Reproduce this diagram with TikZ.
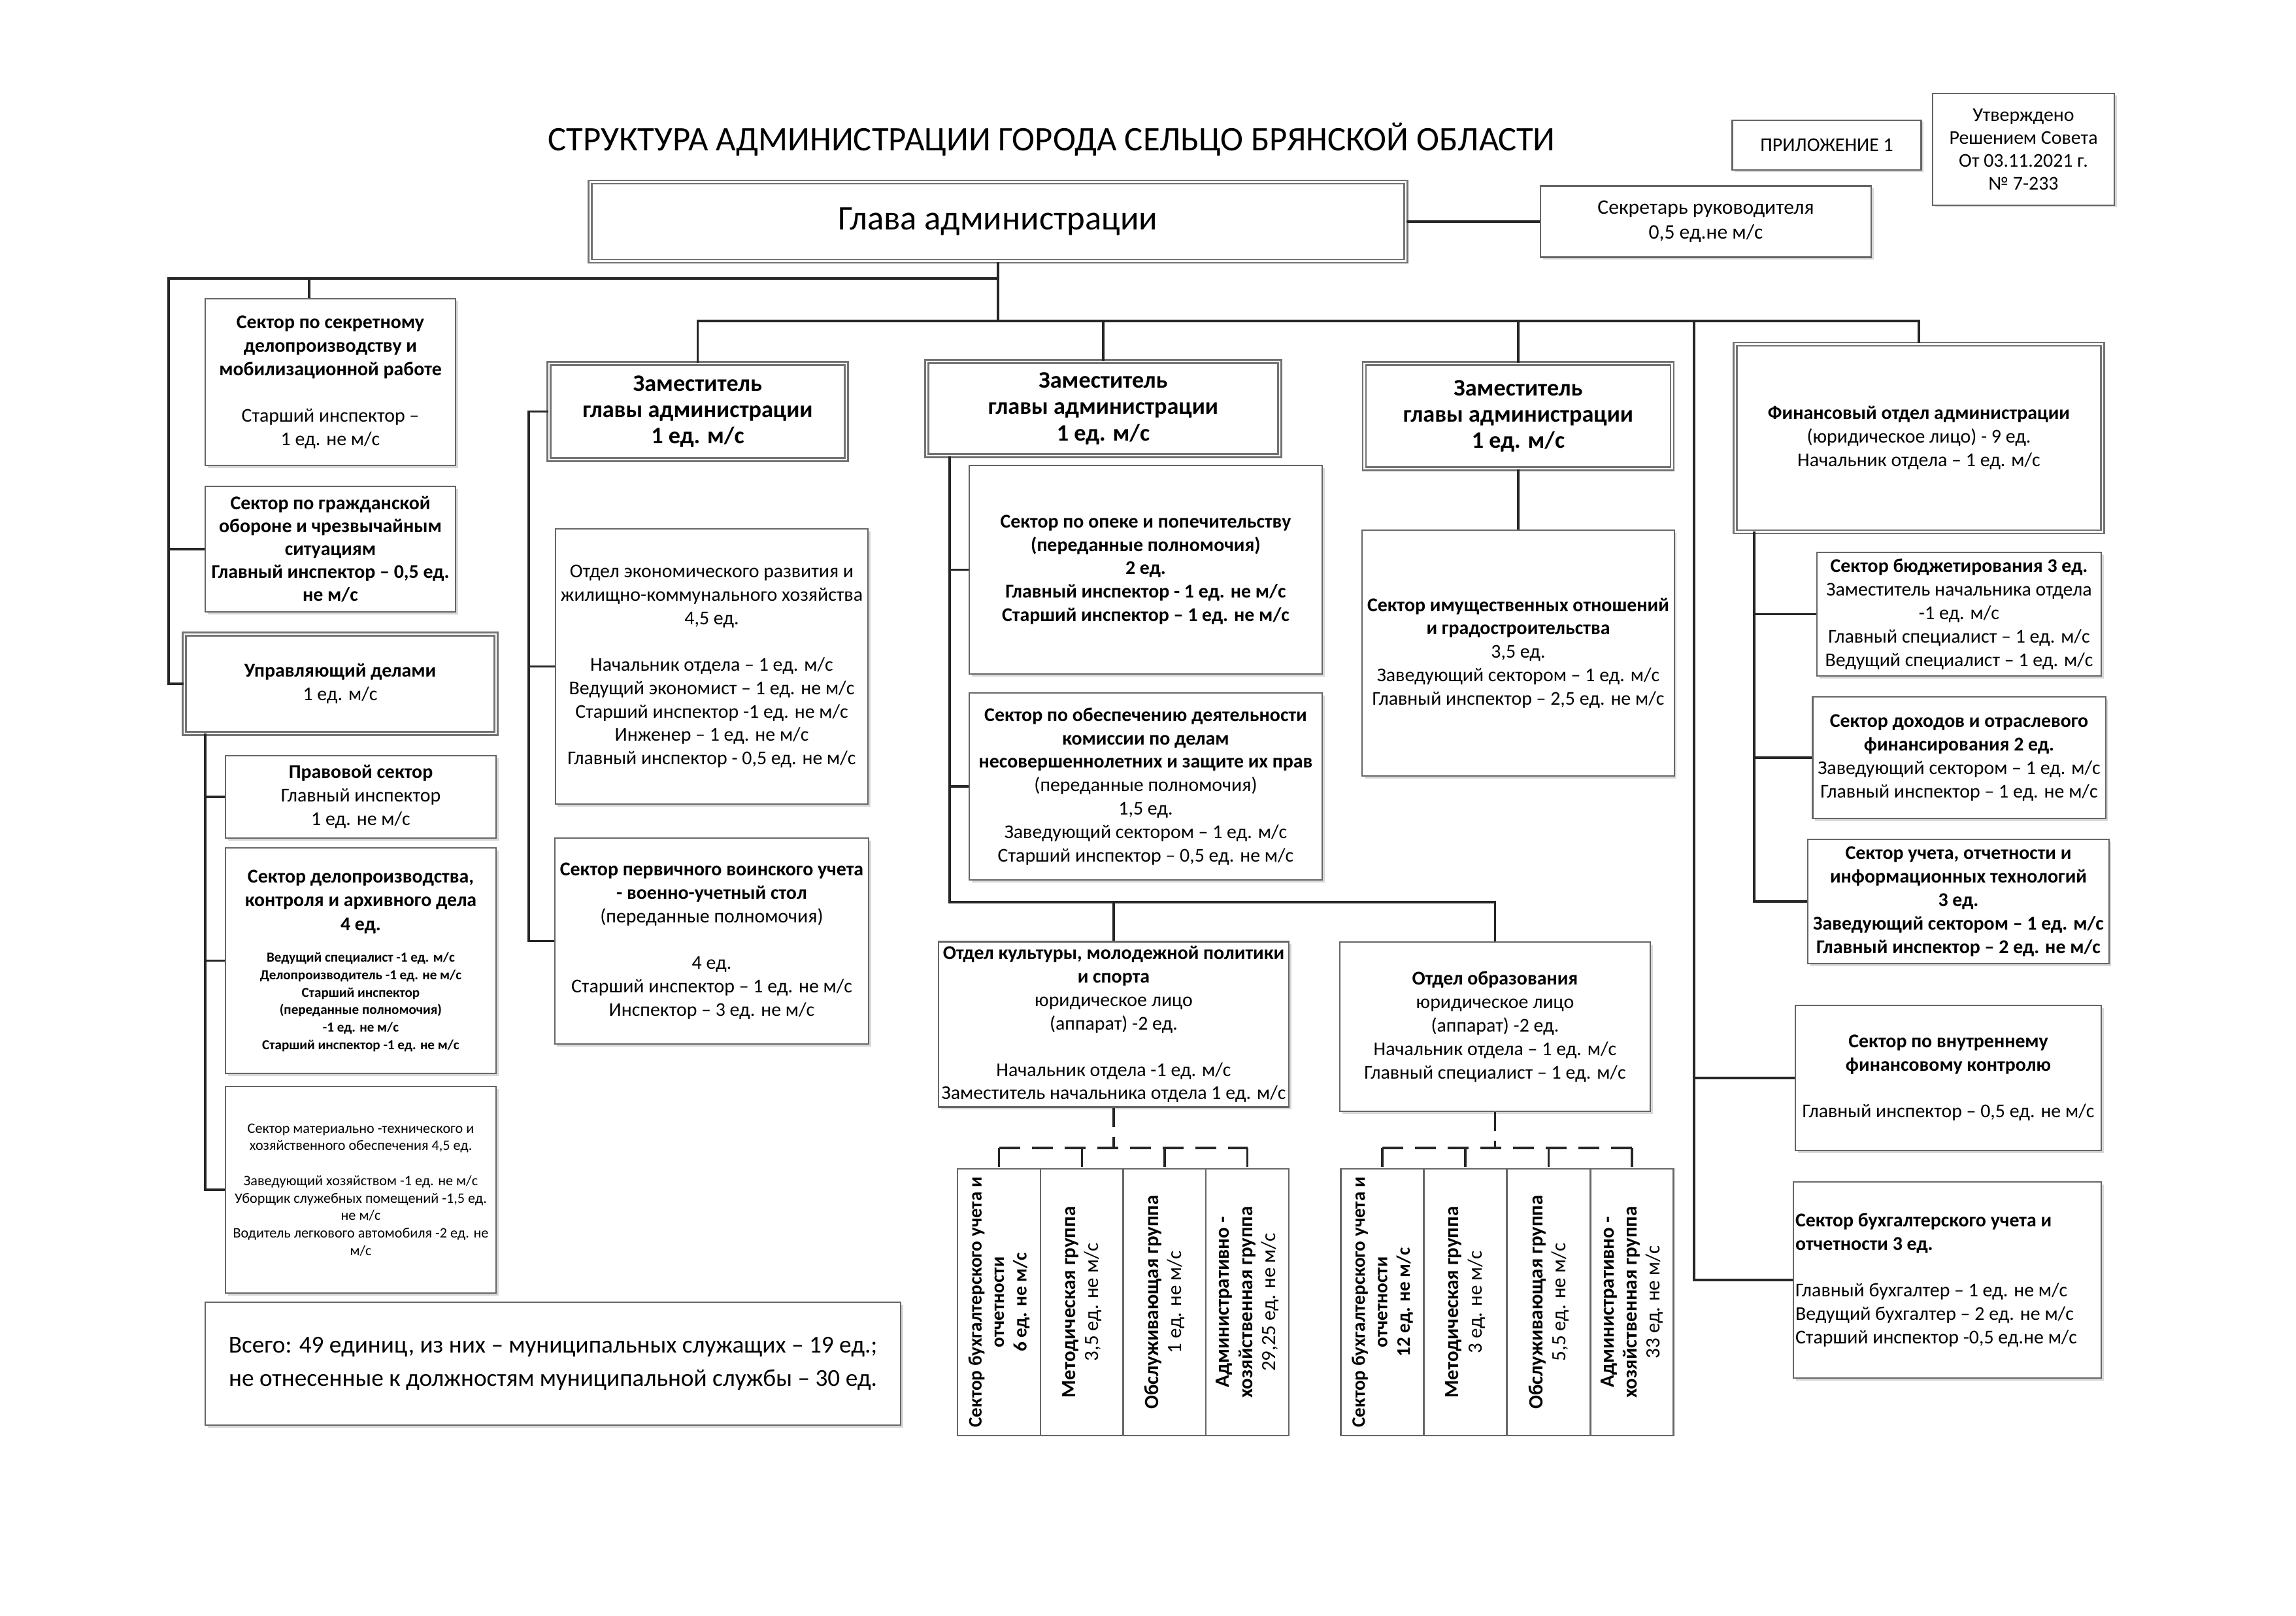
\documentclass[tikz,border=0pt]{standalone}
\usepackage{fontspec}
\setmainfont{Carlito}
\usetikzlibrary{shadows}

\begin{document}
\begin{tikzpicture}[x=1mm, y=-1mm]
\tikzstyle{boxStyle} = [draw=black!60, line width=0.7pt, fill=white, inner xsep=0.8mm, inner ysep=0.4mm, align=center, font=\fontsize{8.5}{10.2}\selectfont, drop shadow={shadow xshift=0.35mm, shadow yshift=-0.35mm, fill=black!30}]
\tikzstyle{mainStyle} = [boxStyle, double=white, double distance=0.7pt, draw=black!55]
\tikzstyle{zamStyle} = [mainStyle, minimum width=45.5mm, minimum height=14.7mm, font=\fontsize{10.3}{11.5}\selectfont\bfseries]
\tikzstyle{colStyle} = [draw=black!60, line width=0.7pt, fill=white, rotate=90, minimum width=40.8mm, minimum height=12.7mm, inner sep=0.3mm, align=center, font=\fontsize{8.8}{10}\selectfont]
\tikzstyle{edgeStyle} = [draw=black!85, line width=0.9pt]
\tikzstyle{dashStyle} = [edgeStyle, line width=1.1pt, dash pattern=on 3.2mm off 1.8mm]
\tikzstyle{stubStyle} = [edgeStyle, dash pattern=on 2.9mm off 1.5mm]

\useasboundingbox (0,0) rectangle (351.3,247.2);

\node[font=\fontsize{15}{17}\selectfont] (title) at (160.9,21.3) {СТРУКТУРА АДМИНИСТРАЦИИ ГОРОДА СЕЛЬЦО БРЯНСКОЙ ОБЛАСТИ};
\node[boxStyle, minimum width=28.9mm, minimum height=7.6mm, font=\fontsize{8.5}{10}\selectfont] (app) at (279.5,22.2) {ПРИЛОЖЕНИЕ 1};
\node[boxStyle, minimum width=27.8mm, minimum height=17.1mm, font=\fontsize{8.5}{10}\selectfont] (appr) at (309.6,22.85) {Утверждено\\Решением Совета\\От 03.11.2021 г.\\№ 7-233};

\node[mainStyle, minimum width=124.8mm, minimum height=12.1mm, font=\fontsize{15}{17}\selectfont] (glava) at (152.7,33.9) {Глава администрации};
\node[boxStyle, minimum width=50.6mm, minimum height=10.9mm, font=\fontsize{9}{11}\selectfont] (secr) at (261,33.9) {Секретарь руководителя\\0,5 ед.не м/с};

\node[boxStyle, minimum width=38.3mm, minimum height=25.5mm] (secret) at (50.55,58.45) {\textbf{Сектор  по секретному}\\\textbf{делопроизводству и}\\\textbf{мобилизационной работе}\\[10pt]Старший инспектор –\\1 ед. не м/с};
\node[boxStyle, minimum width=38.3mm, minimum height=19.2mm, font=\fontsize{8.5}{10}\selectfont\bfseries] (go) at (50.55,84.0) {Сектор по гражданской\\обороне и чрезвычайным\\ситуациям\\Главный инспектор – 0,5 ед.\\не м/с};
\node[mainStyle, minimum width=47.7mm, minimum height=15.2mm] (uprav) at (52.05,104.6) {\textbf{Управляющий делами}\\1 ед. м/с};
\node[boxStyle, minimum width=41.4mm, minimum height=12.6mm] (pravo) at (55.2,121.9) {\textbf{Правовой сектор}\\Главный инспектор\\1 ед. не м/с};
\node[boxStyle, minimum width=41.4mm, minimum height=34.5mm, text width=41mm, inner xsep=0.2mm, align=flush center] (delo) at (55.2,146.95) {{\fontsize{8.5}{10.5}\selectfont\bfseries Сектор делопроизводства,\\контроля и архивного дела\\4 ед.\par}\vspace{6pt}{\fontsize{6}{7.6}\selectfont\bfseries Ведущий специалист -1 ед. м/с\\Делопроизводитель -1 ед. не м/с\\Старший инспектор\\(переданные полномочия)\\-1 ед. не м/с\\Старший инспектор -1 ед. не м/с\par}};
\node[boxStyle, minimum width=41.4mm, minimum height=31.6mm, inner xsep=0.2mm, font=\fontsize{6.3}{7.6}\selectfont] (mater) at (55.2,182.0) {Сектор материально -технического и\\хозяйственного обеспечения 4,5 ед.\\[7.6pt]Заведующий хозяйством -1 ед. не м/с\\Уборщик служебных помещений -1,5 ед.\\не м/с\\Водитель легкового автомобиля -2 ед. не\\м/с};
\node[boxStyle, minimum width=106.4mm, minimum height=18.8mm, font=\fontsize{10.6}{14.6}\selectfont] (total) at (84.6,208.6) {Всего: 49 единиц,  из них – муниципальных служащих – 19 ед.;\\не отнесенные к должностям муниципальной службы – 30 ед.};

\node[zamStyle] (zam1) at (106.75,62.95) {Заместитель\\главы администрации\\1 ед. м/с};
\node[boxStyle, minimum width=47.5mm, minimum height=42.1mm] (econ) at (108.9,101.95) {Отдел экономического развития и\\жилищно-коммунального хозяйства\\4,5 ед.\\[10pt]Начальник отдела – 1 ед. м/с\\Ведущий экономист  – 1 ед. не м/с\\Старший инспектор -1 ед. не м/с\\Инженер – 1 ед. не м/с\\Главный инспектор - 0,5 ед. не м/с};
\node[boxStyle, minimum width=47.5mm, minimum height=31.5mm] (voen) at (108.9,143.95) {\textbf{Сектор первичного воинского учета}\\\textbf{- военно-учетный стол}\\(переданные полномочия)\\[10pt]4 ед.\\Старший инспектор – 1 ед. не м/с\\Инспектор – 3 ед. не м/с};

\node[zamStyle, minimum width=54mm, minimum height=14.4mm] (zam2) at (168.8,62.5) {Заместитель\\главы администрации\\1 ед. м/с};
\node[boxStyle, minimum width=54mm, minimum height=31.9mm, font=\fontsize{8.5}{10.2}\selectfont\bfseries] (opeka) at (175.3,87.15) {Сектор по опеке и попечительству\\(переданные полномочия)\\2 ед.\\Главный инспектор - 1 ед. не м/с\\Старший инспектор – 1 ед. не м/с};
\node[boxStyle, minimum width=54mm, minimum height=28.6mm] (obesp) at (175.3,120.3) {\textbf{Сектор по обеспечению деятельности}\\\textbf{комиссии по делам}\\\textbf{несовершеннолетних и защите их прав}\\(переданные полномочия)\\1,5 ед.\\Заведующий сектором – 1 ед. м/с\\Старший инспектор – 0,5 ед. не м/с};
\node[boxStyle, minimum width=53.6mm, minimum height=25.3mm, inner xsep=0.3mm] (cult) at (170.4,156.7) {\textbf{Отдел культуры, молодежной политики}\\\textbf{и спорта}\\юридическое лицо\\(аппарат) -2 ед.\\[10pt]Начальник отдела -1 ед. м/с\\Заместитель начальника отдела 1 ед. м/с};
\node[boxStyle, minimum width=47.5mm, minimum height=25.9mm] (educ) at (228.75,157.05) {\textbf{Отдел образования}\\юридическое лицо\\(аппарат) -2 ед.\\Начальник отдела – 1 ед. м/с\\Главный специалист – 1 ед. м/с};

\node[colStyle, font=\fontsize{8.3}{9.8}\selectfont] (c1) at (152.85,199.2) {\textbf{Сектор бухгалтерского учета и}\\\textbf{отчетности}\\\textbf{6 ед. не м/с}};
\node[colStyle] (c2) at (165.55,199.2) {\textbf{Методическая группа}\\3,5 ед. не м/с};
\node[colStyle] (c3) at (178.2,199.2) {\textbf{Обслуживающая группа}\\1 ед. не м/с};
\node[colStyle] (c4) at (190.85,199.2) {\textbf{Административно -}\\\textbf{хозяйственная группа}\\29,25 ед. не м/с};
\node[colStyle, font=\fontsize{8.3}{9.8}\selectfont] (e1) at (211.5,199.2) {\textbf{Сектор бухгалтерского учета и}\\\textbf{отчетности}\\\textbf{12 ед. не м/с}};
\node[colStyle] (e2) at (224.2,199.2) {\textbf{Методическая группа}\\3 ед. не м/с};
\node[colStyle] (e3) at (236.95,199.2) {\textbf{Обслуживающая группа}\\5,5 ед. не м/с};
\node[colStyle] (e4) at (249.7,199.2) {\textbf{Административно -}\\\textbf{хозяйственная группа}\\33 ед. не м/с};

\node[zamStyle, minimum width=47.1mm, minimum height=16.1mm] (zam3) at (232.3,63.65) {Заместитель\\главы администрации\\1 ед. м/с};
\node[boxStyle, minimum width=47.5mm, minimum height=37.6mm] (imush) at (232.3,99.9) {\textbf{Сектор имущественных отношений}\\\textbf{и градостроительства}\\3,5 ед.\\Заведующий  сектором – 1 ед. м/с\\Главный инспектор – 2,5 ед. не м/с};

\node[mainStyle, minimum width=56.2mm, minimum height=28.7mm] (fin) at (293.6,67.0) {\textbf{Финансовый отдел администрации}\\(юридическое лицо) - 9 ед.\\Начальник отдела – 1 ед. м/с};
\node[boxStyle, minimum width=43.5mm, minimum height=18.9mm] (budget) at (299.75,93.95) {\textbf{Сектор бюджетирования 3 ед.}\\Заместитель начальника отдела\\-1 ед. м/с\\Главный специалист – 1 ед. м/с\\Ведущий специалист – 1 ед. м/с};
\node[boxStyle, minimum width=43.5mm, minimum height=18.6mm] (dohod) at (299.75,115.9) {\textbf{Сектор доходов  и отраслевого}\\\textbf{финансирования 2 ед.}\\Заведующий  сектором – 1 ед. м/с\\Главный инспектор – 1 ед. не м/с};
\node[boxStyle, minimum width=45.1mm, minimum height=19mm, font=\fontsize{8.5}{10.2}\selectfont\bfseries] (uchet) at (299.65,137.9) {Сектор учета, отчетности и\\информационных технологий\\3 ед.\\Заведующий сектором – 1 ед. м/с\\Главный инспектор – 2 ед. не м/с};
\node[boxStyle, minimum width=46.8mm, minimum height=22.2mm] (vnutr) at (298.1,164.9) {\textbf{Сектор по внутреннему}\\\textbf{финансовому контролю}\\[10pt]Главный инспектор – 0,5 ед. не м/с};
\node[boxStyle, minimum width=47.1mm, minimum height=30mm, text width=46.5mm, inner xsep=0.3mm, align=flush left] (buhF) at (297.95,195.8) {\textbf{Сектор бухгалтерского учета и}\\\textbf{отчетности 3 ед.}\\[10pt]Главный бухгалтер – 1 ед. не м/с\\Ведущий бухгалтер – 2 ед. не м/с\\Старший инспектор -0,5 ед.не м/с};

\coordinate (busA) at (25.8,42.6);
\coordinate (busAs) at (47.3,42.6);
\coordinate (busB) at (106.75,49.1);
\coordinate (busC) at (259.2,49.1);
\coordinate (z1L) at (80.9,62.95);
\coordinate (z2L) at (145.3,138.0);
\coordinate (uL) at (31.4,112.2);
\coordinate (fL) at (268.4,81.3);
\coordinate (dC) at (170.4,175.6);
\coordinate (dE) at (228.75,175.6);

\draw[edgeStyle] (glava.east) -- (secr.west);
\draw[edgeStyle] (glava.south) |- (busA) |- (uprav.west);
\draw[edgeStyle] (busA |- go.west) -- (go.west);
\draw[edgeStyle] (busAs) -- (busAs |- secret.north);
\draw[edgeStyle] (glava.south) -- (glava.south |- busB);
\draw[edgeStyle] (zam1.north) -- (zam1.north |- busB) -| (fin.north);
\draw[edgeStyle] (zam2.north) -- (zam2.north |- busB);
\draw[edgeStyle] (zam3.north) -- (zam3.north |- busB);
\draw[edgeStyle] (busC) |- (buhF.west);
\draw[edgeStyle] (busC |- vnutr.west) -- (vnutr.west);

\draw[edgeStyle] (zam1.west) -- (z1L) |- (voen.west);
\draw[edgeStyle] (z1L |- econ.west) -- (econ.west);

\draw[edgeStyle] (z2L |- zam2.south) -- (z2L) -| (educ.north);
\draw[edgeStyle] (z2L |- opeka.west) -- (opeka.west);
\draw[edgeStyle] (z2L |- obesp.west) -- (obesp.west);
\draw[edgeStyle] (cult.north) -- (cult.north |- z2L);

\draw[edgeStyle] (zam3.south) -- (imush.north);

\draw[edgeStyle] (uL) |- (mater.west);
\draw[edgeStyle] (uL |- pravo.west) -- (pravo.west);
\draw[edgeStyle] (uL |- delo.west) -- (delo.west);

\draw[edgeStyle] (fL) |- (uchet.west);
\draw[edgeStyle] (fL |- budget.west) -- (budget.west);
\draw[edgeStyle] (fL |- dohod.west) -- (dohod.west);

\draw[stubStyle] (cult.south) -- (dC);
\draw[stubStyle] (educ.south) -- (dE);
\draw[dashStyle] (c1.east |- dC) -- (c4.east |- dC);
\draw[dashStyle] (e1.east |- dE) -- (e4.east |- dE);
\foreach \c in {c1,c2,c3,c4}
  \draw[stubStyle] (\c.east |- dC) -- (\c.east);
\foreach \e in {e1,e2,e3,e4}
  \draw[stubStyle] (\e.east |- dE) -- (\e.east);
\end{tikzpicture}
\end{document}
